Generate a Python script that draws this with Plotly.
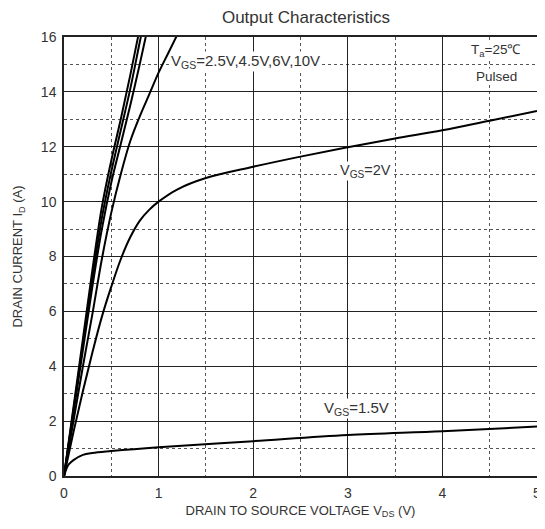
import plotly.graph_objects as go

# ---- data ----
vds_10 = [0, 0.1, 0.2, 0.3, 0.4, 0.5, 0.6, 0.7, 0.8]
id_10 = [0, 2.5, 5.0, 7.5, 9.8, 11.5, 13.0, 14.6, 16.3]

vds_6 = [0, 0.1, 0.2, 0.3, 0.4, 0.5, 0.6, 0.7, 0.8, 0.83]
id_6 = [0, 2.4, 4.8, 7.2, 9.4, 11.1, 12.6, 14.1, 15.8, 16.3]

vds_45 = [0, 0.1, 0.2, 0.3, 0.4, 0.5, 0.6, 0.7, 0.8, 0.87]
id_45 = [0, 2.3, 4.6, 6.9, 9.0, 10.7, 12.1, 13.5, 15.0, 16.1]

vds_25 = [0, 0.1, 0.2, 0.3, 0.4, 0.5, 0.6, 0.7, 0.8, 0.9, 1.0, 1.1, 1.2]
id_25 = [0, 2.0, 4.0, 5.9, 7.9, 9.6, 11.0, 12.2, 13.1, 13.9, 14.7, 15.4, 16.1]

vds_2 = [0, 0.1, 0.2, 0.3, 0.4, 0.5, 0.6, 0.7, 0.8, 0.9, 1.0, 1.2, 1.5, 2.0, 2.5, 3.0, 3.5, 4.0, 4.5, 5.0]
id_2 = [0, 1.6, 3.1, 4.5, 5.8, 6.9, 7.9, 8.7, 9.3, 9.7, 10.0, 10.45, 10.86, 11.27, 11.64, 11.98, 12.3, 12.6, 12.95, 13.3]

vds_15 = [0, 0.03, 0.05, 0.1, 0.2, 0.3, 0.5, 1, 2, 3, 4, 5]
id_15 = [0, 0.3, 0.42, 0.58, 0.77, 0.84, 0.91, 1.05, 1.27, 1.49, 1.63, 1.8]

x_ticks = [0, 1, 2, 3, 4, 5]
y_ticks = [0, 2, 4, 6, 8, 10, 12, 14, 16]

FONT = "Liberation Sans, Arial, sans-serif"
TXT = "#333333"

fig = go.Figure()
for xs, ys in [(vds_10, id_10), (vds_6, id_6), (vds_45, id_45), (vds_25, id_25),
               (vds_2, id_2), (vds_15, id_15)]:
    fig.add_trace(go.Scatter(x=xs, y=ys, mode="lines",
                             line=dict(color="black", width=2, shape="spline", smoothing=1.0),
                             showlegend=False, hoverinfo="skip"))

# page body has an 8px margin, so the figure is sized to fit the window
W, H = 537, 521
fig.update_layout(
    width=W, height=H,
    margin=dict(l=56, r=4, t=29, b=53),
    paper_bgcolor="white", plot_bgcolor="white",
    font=dict(family=FONT, color=TXT, size=14),
    title=dict(text="Output Characteristics", x=0.555, xanchor="center",
               y=0.994, yanchor="top", font=dict(size=17, color=TXT)),
    showlegend=False,
)

fig.update_xaxes(
    range=[0, 5], tickvals=x_ticks, ticks="outside", ticklen=3, tickcolor="rgba(0,0,0,0)",
    tickfont=dict(size=14, color=TXT),
    showgrid=True, gridcolor="#222222", gridwidth=1.3,
    minor=dict(dtick=0.5, showgrid=True, gridcolor="#555555", griddash="dot", gridwidth=1.2),
    showline=True, linecolor="#222222", linewidth=1.5, mirror=True, zeroline=False,
    title=dict(text="DRAIN TO SOURCE VOLTAGE V<sub>DS</sub> (V)", standoff=6,
               font=dict(size=13, color=TXT)),
)
fig.update_yaxes(
    range=[0, 16], tickvals=y_ticks, ticks="", tickfont=dict(size=14, color=TXT),
    ticklabelstandoff=3,
    showgrid=True, gridcolor="#222222", gridwidth=1.3,
    minor=dict(dtick=1, showgrid=True, gridcolor="#555555", griddash="dot", gridwidth=1.2),
    showline=True, linecolor="#222222", linewidth=1.5, mirror=True, zeroline=False,
    title=dict(text="DRAIN CURRENT I<sub>D</sub> (A)", standoff=15,
               font=dict(size=13, color=TXT)),
)

ann = [
    dict(x=1.12, y=15.1, text="V<sub>GS</sub>=2.5V,4.5V,6V,10V", xanchor="left", size=15),
    dict(x=4.57, y=15.5, text="T<sub>a</sub>=25\u2103", xanchor="center", size=13.5),
    dict(x=4.57, y=14.55, text="Pulsed", xanchor="center", size=13.5),
    dict(x=2.91, y=11.1, text="V<sub>GS</sub>=2V", xanchor="left", size=14.5),
    dict(x=2.74, y=2.45, text="V<sub>GS</sub>=1.5V", xanchor="left", size=15),
]
for a in ann:
    fig.add_annotation(x=a["x"], y=a["y"], text=a["text"], xanchor=a["xanchor"],
                       yanchor="middle", showarrow=False, bgcolor="white", borderpad=0,
                       font=dict(size=a["size"], color=TXT, family=FONT))

fig.write_html("out.html")
